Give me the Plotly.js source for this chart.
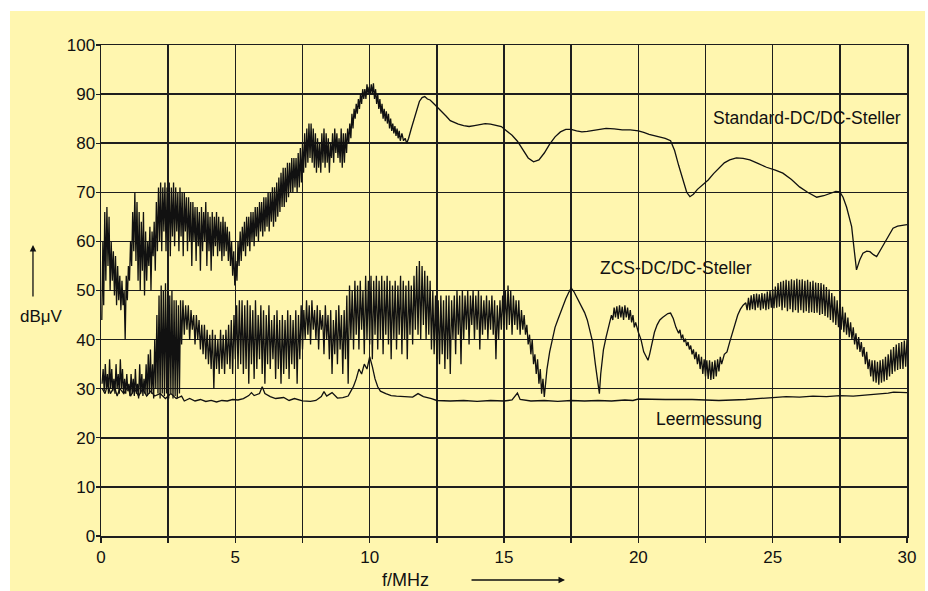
<!DOCTYPE html>
<html>
<head>
<meta charset="utf-8">
<script src="https://cdn.plot.ly/plotly-3.0.1.min.js"></script>
<style>
  html, body { margin: 0; padding: 0; background: #ffffff; }
  #chart { position: absolute; left: 10px; top: 11px; width: 915px; height: 580px; }
</style>
</head>
<body>
<div id="chart"></div>
<script>
// Frequency in MHz, level in dBµV
const xTickLabels = ['0', '5', '10', '15', '20', '25', '30'];
const yTickLabels = ['0', '10', '20', '30', '40', '50', '60', '70', '80', '90', '100'];
const seriesNames = ['Standard-DC/DC-Steller', 'ZCS-DC/DC-Steller', 'Leermessung'];

const standardPoints = [
[0.03,44],[0.07,60],[0.1,47],[0.14,66],[0.18,52],[0.22,67],[0.26,55],[0.3,65],[0.34,50],[0.38,60],[0.42,52],[0.46,58],[0.5,49],[0.54,57],[0.58,47],[0.62,55],[0.66,48],[0.7,53],[0.74,46],[0.78,52],[0.82,47],[0.86,50],[0.9,40],[0.94,53],[0.98,48],
[1.02,55],[1.06,52],[1.1,60],[1.14,55],[1.18,66],[1.22,58],[1.26,70],[1.3,56],[1.34,68],[1.38,52],[1.42,66],[1.46,50],[1.5,64],[1.54,54],[1.58,66],[1.62,49],[1.66,62],[1.7,52],[1.74,60],[1.78,55],[1.82,63],[1.86,50],[1.9,62],[1.94,57],[1.98,64],
[2.02,54],[2.06,68],[2.1,58],[2.14,71],[2.18,60],[2.22,72],[2.26,58],[2.3,71],[2.34,62],[2.38,72],[2.42,58],[2.46,71],[2.5,60],[2.54,72],[2.58,57],[2.62,71],[2.66,61],[2.7,72],[2.74,59],[2.78,71],[2.82,62],[2.86,70],[2.9,58],[2.94,71],[2.98,61],
[3.02,70],[3.06,57],[3.1,70],[3.14,62],[3.18,69],[3.22,58],[3.26,69],[3.3,60],[3.34,68],[3.38,55],[3.42,68],[3.46,60],[3.5,67],[3.54,56],[3.58,67],[3.62,59],[3.66,66],[3.7,54],[3.74,67],[3.78,58],[3.82,66],[3.86,60],[3.9,68],[3.94,55],[3.98,66],
[4.02,58],[4.06,65],[4.1,54],[4.14,66],[4.18,57],[4.22,65],[4.26,59],[4.3,66],[4.34,57],[4.38,65],[4.42,58],[4.46,64],[4.5,56],[4.54,65],[4.58,57],[4.62,64],[4.66,58],[4.7,63],[4.74,56],[4.78,62],[4.82,55],[4.86,60],[4.9,53],[4.94,58],[4.98,51],
[5.02,56],[5.06,52],[5.1,60],[5.14,55],[5.18,62],[5.22,56],[5.26,63],[5.3,58],[5.34,64],[5.38,57],[5.42,65],[5.46,59],[5.5,65],[5.54,58],[5.58,66],[5.62,60],[5.66,66],[5.7,59],[5.74,67],[5.78,61],[5.82,67],[5.86,60],[5.9,68],[5.94,62],[5.98,68],
[6.02,61],[6.06,69],[6.1,62],[6.14,69],[6.18,63],[6.22,70],[6.26,62],[6.3,70],[6.34,64],[6.38,71],[6.42,63],[6.46,71],[6.5,64],[6.54,72],[6.58,65],[6.62,73],[6.66,66],[6.7,74],[6.74,67],[6.78,75],[6.82,67],[6.86,75],[6.9,68],[6.94,76],[6.98,69],
[7.02,76],[7.06,70],[7.1,77],[7.14,70],[7.18,77],[7.22,71],[7.26,77],[7.3,70],[7.34,78],[7.38,71],[7.42,79],[7.46,72],[7.5,80],[7.54,74],[7.58,82],[7.62,75],[7.66,83],[7.7,76],[7.74,84],[7.78,77],[7.82,84],[7.86,76],[7.9,83],[7.94,75],[7.98,82],
[8.02,74],[8.06,81],[8.1,75],[8.14,80],[8.18,74],[8.22,82],[8.26,76],[8.3,83],[8.34,75],[8.38,82],[8.42,76],[8.46,81],[8.5,74],[8.54,80],[8.58,77],[8.62,82],[8.66,76],[8.7,83],[8.74,78],[8.78,82],[8.82,77],[8.86,81],[8.9,76],[8.94,83],[8.98,75],
[9.02,82],[9.06,76],[9.1,82],[9.14,78],[9.18,83],[9.22,80],[9.26,84],[9.3,81],[9.34,86],[9.38,83],[9.42,87],[9.46,85],[9.5,88],[9.54,86],[9.58,89],[9.62,87],[9.66,90],[9.7,88],[9.74,91],[9.78,89],[9.82,91],[9.86,89],[9.9,92],[9.94,90],[9.98,91.5],
[10.02,90],[10.06,92],[10.1,90],[10.14,92.2],[10.18,89],[10.22,91],[10.26,88],[10.3,90],[10.34,87],[10.38,89],[10.42,86],[10.46,88],[10.5,85],[10.54,87],[10.58,84.5],[10.62,86.5],[10.66,84],[10.7,86],[10.74,83],[10.78,85],[10.82,82.5],[10.86,84],[10.9,82],[10.94,83.5],[10.98,81.5],
[11.02,83],[11.06,81],[11.1,82.5],[11.14,80.5],[11.2,82],[11.26,80.5],[11.32,81],[11.38,80],[11.45,81],[11.55,83],[11.65,85],[11.75,87],[11.85,88.5],[11.95,89.3],[12.05,89.5],[12.15,89],[12.25,88.8],[12.4,88],[12.55,87.2],[12.7,86.5],[12.85,85.5],
[13.0,84.6],[13.15,84.2],[13.3,83.9],[13.5,83.6],[13.7,83.4],[13.9,83.6],[14.1,83.8],[14.3,84.0],[14.5,83.9],[14.7,83.7],[14.9,83.4],[15.1,82.5],[15.3,81.6],[15.5,80.4],[15.7,78.6],[15.9,77],[16.1,76.2],[16.3,76.6],[16.5,78],[16.7,79.8],[16.9,81.3],
[17.1,82.3],[17.3,82.8],[17.5,82.8],[17.7,82.5],[17.9,82.3],[18.1,82.4],[18.3,82.6],[18.5,82.8],[18.8,83.0],[19.1,82.9],[19.4,82.7],[19.7,82.7],[20.0,82.5],[20.2,82.2],
[20.4,81.8],[20.7,81.4],[21.0,81],[21.2,80.5],[21.35,78.5],[21.5,75.5],[21.65,72.5],[21.8,70],[21.92,69.1],[22.05,69.6],[22.2,70.6],[22.4,71.6],[22.6,72.5],[22.8,73.8],[23.0,75],[23.2,76],[23.4,76.6],[23.65,77],[23.9,76.9],[24.15,76.6],[24.45,75.9],[24.77,75.1],
[25.1,74.5],[25.38,73.9],[25.7,72.6],[26.0,71.1],[26.3,70],[26.64,69],[26.9,69.3],[27.13,69.8],[27.35,70.2],[27.5,70.1],[27.62,69],[27.75,67],[27.85,65],[27.94,63],[28.03,58.5],[28.12,54.2],[28.24,56.2],[28.36,57.6],[28.5,58],[28.62,57.9],[28.75,57.3],[28.87,56.9],
[29.05,58.6],[29.24,60.3],[29.36,61.6],[29.48,62.7],[29.65,63.1],[29.85,63.3],[30.0,63.4]
];

const zcsPoints = [
[0.04,31],[0.08,34],[0.12,29.5],[0.16,35],[0.2,30],[0.24,33],[0.28,29],[0.32,36],[0.36,30],[0.4,34],[0.44,29.5],[0.48,32],[0.52,29],[0.56,35],[0.6,30],[0.64,33],[0.68,29],[0.72,36],[0.76,30],[0.8,34],[0.84,29],[0.88,32],[0.92,29],[0.96,33],
[1.0,29.5],[1.04,31],[1.08,28.5],[1.12,33],[1.16,29],[1.2,32],[1.24,28.5],[1.28,34],[1.32,29],[1.36,31],[1.4,28],[1.44,35],[1.48,29],[1.52,33],[1.56,28.5],[1.6,32],[1.64,29],[1.68,35],[1.72,28.5],[1.76,37],[1.8,29],[1.84,38],[1.88,29],[1.92,35],[1.96,28],
[2.0,40],[2.04,30],[2.08,45],[2.12,29],[2.16,49],[2.2,28],[2.24,51],[2.28,29],[2.32,50],[2.36,28.5],[2.4,51.5],[2.44,29],[2.48,50],[2.52,28],[2.56,49],[2.6,29],[2.64,50],[2.68,28],[2.72,48],[2.76,28.5],[2.8,48],[2.84,28],[2.88,47],[2.92,29],[2.96,48],
[3.0,39],[3.05,48],[3.1,41],[3.15,47],[3.2,42],[3.25,47],[3.3,40],[3.35,46],[3.4,42],[3.45,45],[3.5,39],[3.55,45],[3.6,40],[3.65,44],[3.7,38],[3.75,43],[3.8,37],[3.85,43],[3.9,36],[3.95,42],
[4.0,35],[4.05,41],[4.1,34],[4.15,42],[4.2,30],[4.25,41],[4.3,34],[4.35,40],[4.4,33],[4.45,42],[4.5,34],[4.55,41],[4.6,33],[4.65,42],[4.7,35],[4.75,43],[4.8,34],[4.85,44],[4.9,33],[4.95,45],
[5.0,36],[5.05,47],[5.1,34],[5.15,48],[5.2,35],[5.25,48],[5.3,33],[5.35,47],[5.4,34],[5.45,48],[5.5,31],[5.55,47],[5.6,35],[5.65,46],[5.7,32],[5.75,48],[5.8,34],[5.85,45],[5.9,36],[5.95,47],
[6.0,33],[6.05,46],[6.1,31],[6.15,45],[6.2,35],[6.25,47],[6.3,34],[6.35,44],[6.4,36],[6.45,45],[6.5,32],[6.55,46],[6.6,34],[6.65,44],[6.7,31],[6.75,45],[6.8,33],[6.85,44],[6.9,34],[6.95,46],
[7.0,32],[7.05,45],[7.1,35],[7.15,44],[7.2,34],[7.25,46],[7.3,31],[7.35,45],[7.4,36],[7.45,47],[7.5,38],[7.55,46],[7.6,40],[7.65,48],[7.7,41],[7.75,47],[7.8,39],[7.85,48],[7.9,42],[7.95,46],
[8.0,40],[8.05,47],[8.1,38],[8.15,46],[8.2,42],[8.25,45],[8.3,37],[8.35,47],[8.4,40],[8.45,45],[8.5,36],[8.55,46],[8.6,33],[8.65,44],[8.7,37],[8.75,46],[8.8,35],[8.85,47],[8.9,38],[8.95,45],
[9.0,33],[9.05,46],[9.1,36],[9.15,49],[9.2,31],[9.25,51],[9.3,40],[9.35,50],[9.4,38],[9.45,52],[9.5,41],[9.55,51],[9.6,38],[9.65,52],[9.7,42],[9.75,50],[9.8,37],[9.85,53],[9.9,40],[9.95,52],
[10.0,39],[10.05,53],[10.1,36],[10.15,52],[10.2,41],[10.25,53],[10.3,38],[10.35,52],[10.4,40],[10.45,53],[10.5,37],[10.55,52],[10.6,41],[10.65,53],[10.7,39],[10.75,52],[10.8,36],[10.85,51],[10.9,40],[10.95,52],
[11.0,38],[11.05,51],[11.1,41],[11.15,53],[11.2,37],[11.25,52],[11.3,40],[11.35,51],[11.4,36],[11.45,52],[11.5,41],[11.55,51],[11.6,39],[11.65,53],[11.7,42],[11.75,55],[11.8,41],[11.85,56],[11.9,40],[11.95,55],
[12.0,43],[12.05,54],[12.1,40],[12.15,53],[12.2,41],[12.25,52],[12.3,38],[12.35,50],[12.4,37],[12.45,49],[12.5,36],[12.55,48],[12.6,35],[12.65,49],[12.7,37],[12.75,48],[12.8,34],[12.85,49],[12.9,36],[12.95,49],
[13.0,33],[13.05,48],[13.1,40],[13.15,49],[13.2,37],[13.25,50],[13.3,41],[13.35,49],[13.4,35],[13.45,50],[13.5,40],[13.55,49],[13.6,42],[13.65,50],[13.7,39],[13.75,49],[13.8,43],[13.85,50],[13.9,40],[13.95,49],
[14.0,42],[14.05,50],[14.1,38],[14.15,49],[14.2,41],[14.25,48],[14.3,42],[14.35,49],[14.4,40],[14.45,48],[14.5,42],[14.55,49],[14.6,41],[14.65,48],[14.7,36],[14.75,47],[14.8,40],[14.85,48],[14.9,42],[14.95,49],
[15.0,43],[15.05,50],[15.1,42],[15.15,51],[15.2,43],[15.25,50],[15.3,41],[15.35,49],[15.4,43],[15.45,48],[15.5,42],[15.55,48],[15.6,41],[15.65,46],[15.7,42],[15.75,45],[15.8,41],[15.85,43],[15.9,39],[15.95,41],
[16.0,37],[16.05,40],[16.1,35],[16.15,37],[16.2,33],[16.25,36],[16.3,31],[16.35,34],[16.4,29],[16.45,32],[16.5,28.3],[16.55,31],[16.6,34],[16.7,37.5],[16.8,40],[16.9,42.5],
[17.0,44],[17.1,45.5],[17.2,47],[17.3,48.3],[17.4,49.5],[17.5,50.5],[17.6,49.8],[17.7,48.7],[17.8,47.8],[17.9,46.5],[18.0,45.5],[18.1,44],[18.2,42],[18.3,39.5],[18.4,35],[18.5,30.4],[18.55,29],[18.6,33],[18.7,37.9],[18.8,40.5],[18.9,42.6],
[19.0,45],[19.05,44],[19.1,46.5],[19.15,44.5],[19.2,46.8],[19.25,44.2],[19.3,47],[19.35,44.5],[19.4,46.7],[19.45,44],[19.5,47],[19.55,44.5],[19.6,46.5],[19.65,44],[19.7,46],[19.75,43.5],[19.8,45],[19.85,42.5],[19.9,43.5],
[20.0,41.5],[20.1,40],[20.2,37.5],[20.3,36.2],[20.36,35.8],[20.42,37],[20.5,39],[20.6,41.5],[20.7,43],[20.8,44],[20.9,44.5],[21.0,45],[21.1,45.3],[21.2,45.4],[21.3,44.3],[21.4,42.5],[21.5,41.3],[21.55,42],[21.6,40.2],[21.65,41],[21.7,39.5],[21.75,40.2],[21.8,38.7],[21.85,39.5],[21.9,38],[21.95,38.8],
[22.0,37],[22.05,38],[22.1,36],[22.15,37.5],[22.2,35],[22.25,37],[22.3,34],[22.35,36.5],[22.4,33],[22.45,36],[22.5,32.5],[22.55,35.8],[22.6,32],[22.65,35.8],[22.7,31.8],[22.75,35.5],[22.8,32],[22.85,35.8],[22.9,32.5],[22.95,36],
[23.0,33.5],[23.05,36.5],[23.1,35],[23.2,37],[23.3,37.5],[23.4,39.5],[23.5,41.3],[23.6,43.5],[23.7,45],[23.8,46.2],[23.9,47],[24.0,47.5],
[24.05,46],[24.1,48.5],[24.15,46],[24.2,49],[24.25,46.2],[24.3,49.3],[24.35,46],[24.4,49.4],[24.45,46.5],[24.5,49.2],[24.55,46],[24.6,49.5],[24.65,46.3],[24.7,49.4],[24.75,46],[24.8,49.8],[24.85,46.2],[24.9,50],[24.95,46.5],
[25.0,50.3],[25.05,46.4],[25.1,50.8],[25.15,46.5],[25.2,51.5],[25.25,46.7],[25.3,51.8],[25.35,46],[25.4,52],[25.45,46.5],[25.5,52.2],[25.55,45.8],[25.6,52],[25.65,46.2],[25.7,52.3],[25.75,45.6],[25.8,52.1],[25.85,46],[25.9,52.4],[25.95,45.5],
[26.0,52.2],[26.05,46],[26.1,52.3],[26.15,45.5],[26.2,52],[26.25,45.8],[26.3,52.2],[26.35,45.4],[26.4,51.8],[26.45,45.6],[26.5,52],[26.55,45.4],[26.6,51.6],[26.65,45.5],[26.7,51.5],[26.75,45],[26.8,51.5],[26.85,45.2],[26.9,51.2],[26.95,44.8],
[27.0,50.7],[27.05,44.5],[27.1,50.2],[27.15,44],[27.2,49.5],[27.25,43.5],[27.3,48.8],[27.35,43],[27.4,48],[27.45,42.5],[27.5,47.3],[27.55,42],[27.6,46.7],[27.65,41.5],[27.7,45.5],[27.75,41],[27.8,44.5],[27.85,40.5],[27.9,43.5],[27.95,40],
[28.0,42.5],[28.05,39],[28.1,41.3],[28.15,38],[28.2,40.5],[28.25,37.5],[28.3,39.5],[28.35,36.5],[28.4,38.5],[28.45,35],[28.5,37.5],[28.55,34],[28.6,36],[28.65,32.5],[28.7,35.8],[28.75,31.5],[28.8,35.8],[28.85,31.2],[28.9,35.5],[28.95,30.8],
[29.0,35.8],[29.05,31.2],[29.1,36],[29.15,31.5],[29.2,36.5],[29.25,31.8],[29.3,37],[29.35,32.5],[29.4,38],[29.45,33],[29.5,38.5],[29.55,33.5],[29.6,39],[29.65,33.8],[29.7,39.3],[29.75,34],[29.8,39.5],[29.85,34],[29.9,39.8],[29.95,34.5],[30.0,40]
];

const leerPoints = [
[0.05,30],[0.15,29],[0.25,31],[0.35,29],[0.5,30.5],[0.6,28.5],[0.7,30],[0.85,29],[1.0,30.5],[1.1,28.5],[1.25,30],[1.4,28.5],[1.55,30],[1.7,28.5],[1.85,29.5],[2.0,28.5],[2.2,29],[2.4,28],[2.6,29],[2.8,28],
[3.0,28.5],[3.1,27.5],[3.3,28],[3.5,27.5],[3.7,27.8],[3.9,27.4],[4.1,27.6],[4.3,27.3],[4.5,27.6],[4.7,27.5],[4.9,27.8],[5.1,27.7],[5.3,28],[5.5,28.6],[5.6,29.2],[5.7,28.6],[5.9,29],[6.0,30.4],[6.1,29],[6.3,28.4],[6.5,28],[6.8,28.2],
[7.0,27.6],[7.2,28],[7.5,27.5],[7.8,27.4],[8.0,27.6],[8.2,28.4],[8.3,29.4],[8.4,28.5],[8.6,29.2],[8.8,28.1],[9.0,28.2],[9.2,28.5],[9.3,29.5],[9.4,30.5],[9.5,32],[9.6,34],[9.7,33],[9.8,35],[9.9,34],
[10.0,36.5],[10.1,34.5],[10.2,32],[10.3,30.4],[10.4,29.5],[10.6,29],[10.8,28.6],[11.0,28.5],[11.3,28.4],[11.6,28.3],[11.8,29],[12.0,28.4],[12.3,28],[12.5,27.6],[13.0,27.5],[13.5,27.6],[14.0,27.4],[14.5,27.6],
[15.0,27.5],[15.3,27.7],[15.5,29.1],[15.6,27.8],[16.0,27.5],[16.5,27.6],[17.0,27.4],[17.5,27.6],[18.0,27.5],[18.5,27.6],[19.0,27.5],[19.5,27.7],[19.8,27.6],[20.0,27.9],[21.0,27.8],[22.0,27.8],[23.0,27.6],[24.0,27.8],
[25.0,28.2],[25.5,28.4],[26.0,28.3],[26.5,28.5],[27.0,28.4],[27.5,28.6],[28.0,28.5],[28.5,28.7],[29.0,29],[29.3,29.1],[29.5,29.3],[30.0,29.2]
];

const ink = '#111111';
const fontFam = '"Liberation Sans", Arial, Helvetica, sans-serif';

function trace(points, name) {
  return {
    type: 'scatter', mode: 'lines', name: name,
    x: points.map(p => p[0]), y: points.map(p => p[1]),
    line: { color: ink, width: 1.3 },
    hoverinfo: 'x+y'
  };
}

const data = [
  trace(standardPoints, seriesNames[0]),
  trace(zcsPoints, seriesNames[1]),
  trace(leerPoints, seriesNames[2])
];

const gridCol = '#1e1e1e';
const layout = {
  width: 915, height: 580,
  margin: { l: 91, r: 18, t: 34, b: 55, pad: 0 },
  paper_bgcolor: '#FFF6AF',
  plot_bgcolor: '#FFF6AF',
  showlegend: false,
  font: { family: fontFam, size: 17, color: ink },
  xaxis: {
    range: [0, 30], tickmode: 'array',
    tickvals: xTickLabels.map(Number), ticktext: xTickLabels,
    showgrid: true, gridcolor: gridCol, gridwidth: 1.5,
    ticks: 'outside', ticklen: 5, tickwidth: 1.5, tickcolor: gridCol,
    minor: { dtick: 2.5, tick0: 0, showgrid: true, gridcolor: gridCol, gridwidth: 1.5, ticks: 'outside', ticklen: 5, tickwidth: 1.5, tickcolor: gridCol },
    showline: true, mirror: true, linecolor: gridCol, linewidth: 1.5,
    zeroline: false, fixedrange: true,
    tickfont: { family: fontFam, size: 17, color: ink }
  },
  yaxis: {
    range: [0, 100], tickmode: 'array',
    tickvals: yTickLabels.map(Number), ticktext: yTickLabels,
    showgrid: true, gridcolor: gridCol, gridwidth: 1.5,
    ticks: 'outside', ticklen: 4, tickwidth: 1.2, tickcolor: gridCol,
    ticklabelstandoff: -3,
    showline: true, mirror: true, linecolor: gridCol, linewidth: 1.5,
    zeroline: false, fixedrange: true,
    tickfont: { family: fontFam, size: 17, color: ink }
  },
  annotations: [
    { x: 22.72, y: 85.2, xref: 'x', yref: 'y', text: seriesNames[0], showarrow: false, xanchor: 'left', yanchor: 'middle', font: { family: fontFam, size: 17.5, color: ink } },
    { x: 18.5, y: 54.6, xref: 'x', yref: 'y', text: seriesNames[1], showarrow: false, xanchor: 'left', yanchor: 'middle', font: { family: fontFam, size: 17.5, color: ink } },
    { x: 20.58, y: 23.8, xref: 'x', yref: 'y', text: seriesNames[2], showarrow: false, xanchor: 'left', yanchor: 'middle', font: { family: fontFam, size: 17.5, color: ink } },
    { x: -0.0744, y: 0.448, xref: 'paper', yref: 'paper', text: 'dBμV', showarrow: false, xanchor: 'center', yanchor: 'middle', font: { family: fontFam, size: 17, color: ink } },
    { x: -0.0844, y: 0.5927, xref: 'paper', yref: 'paper', text: '', showarrow: true, ax: 0, ay: 53, arrowhead: 2, arrowsize: 1, arrowwidth: 1.3, arrowcolor: ink },
    { x: 0.378, y: -0.0896, xref: 'paper', yref: 'paper', text: 'f/MHz', showarrow: false, xanchor: 'center', yanchor: 'middle', font: { family: fontFam, size: 18, color: ink } },
    { x: 0.5757, y: -0.0896, xref: 'paper', yref: 'paper', text: '', showarrow: true, ax: -95, ay: 0, arrowhead: 2, arrowsize: 1, arrowwidth: 1.3, arrowcolor: ink }
  ]
};

Plotly.newPlot('chart', data, layout, { staticPlot: true, displayModeBar: false });
</script>
</body>
</html>
